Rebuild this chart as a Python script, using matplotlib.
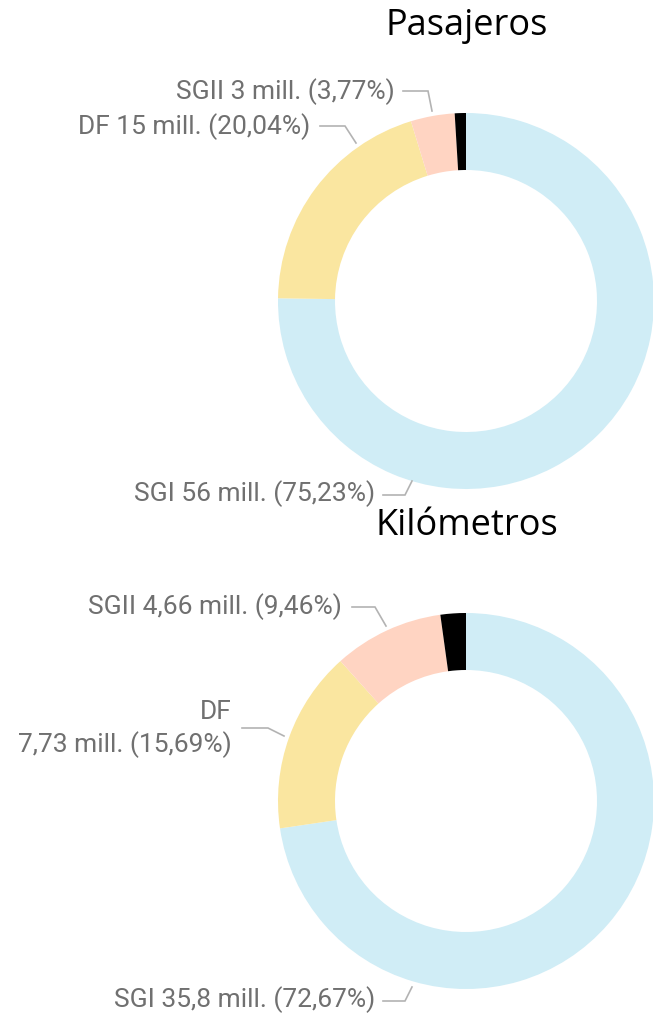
import matplotlib.pyplot as plt

# values (shares in %), clockwise from 12 o'clock
categories = ['SGI', 'DF', 'SGII', 'Otros']
pasajeros_pct = [75.23, 20.04, 3.77, 0.96]
pasajeros_mill = ['56', '15', '3', '']
kilometros_pct = [72.67, 15.69, 9.46, 2.18]
kilometros_mill = ['35,8', '7,73', '4,66', '']
titles = ['Pasajeros', 'Kilómetros']

colors = ['#d0edf6', '#fae6a0', '#ffd4c2', '#000000']
label_color = '#707070'
line_color = '#b3b3b3'

W, H = 653, 1020
fig = plt.figure(figsize=(W / 100, H / 100), dpi=100)
ax = fig.add_axes([0, 0, 1, 1])


def fmt(p):
    return f'{p:.2f}'.replace('.', ',')


def donut(cy, pct, title):
    # y axis is inverted: start at screen top, go clockwise on screen
    ax.pie(pct, colors=colors, center=(466, cy), radius=188, startangle=-90,
           counterclock=True, wedgeprops=dict(width=57, linewidth=0),
           frame=True)
    ax.text(467, cy - 276, title, ha='center', va='center', fontsize=26,
            family='Open Sans', color='black')


def leader(x0, x1, y, x2, y2):
    ax.plot([x0, x1, x2], [y, y, y2], color=line_color, lw=1.2,
            solid_joinstyle='miter')


lab = dict(ha='right', va='center', fontsize=19, family='Roboto',
           color=label_color)

donut(302, pasajeros_pct, titles[0])
ax.text(395, 92, f'{categories[2]} {pasajeros_mill[2]} mill. ({fmt(pasajeros_pct[2])}%)', **lab)
leader(403, 428, 92, 432, 112)
ax.text(310, 127, f'{categories[1]} {pasajeros_mill[1]} mill. ({fmt(pasajeros_pct[1])}%)', **lab)
leader(320, 345, 127, 356, 144)
ax.text(375, 494, f'{categories[0]} {pasajeros_mill[0]} mill. ({fmt(pasajeros_pct[0])}%)', **lab)
leader(383, 405, 496, 412, 482)

donut(802, kilometros_pct, titles[1])
ax.text(342, 607, f'{categories[2]} {kilometros_mill[2]} mill. ({fmt(kilometros_pct[2])}%)', **lab)
leader(352, 375, 608, 386, 627)
ax.text(232, 712, categories[1], **lab)
ax.text(232, 745, f'{kilometros_mill[1]} mill. ({fmt(kilometros_pct[1])}%)', **lab)
leader(242, 268, 729, 284, 737)
ax.text(375, 1000, f'{categories[0]} {kilometros_mill[0]} mill. ({fmt(kilometros_pct[0])}%)', **lab)
leader(383, 405, 1002, 412, 988)

ax.set_xlim(0, W)
ax.set_ylim(H, 0)
ax.set_aspect('equal')
ax.axis('off')

fig.savefig('out.png', dpi=100)
